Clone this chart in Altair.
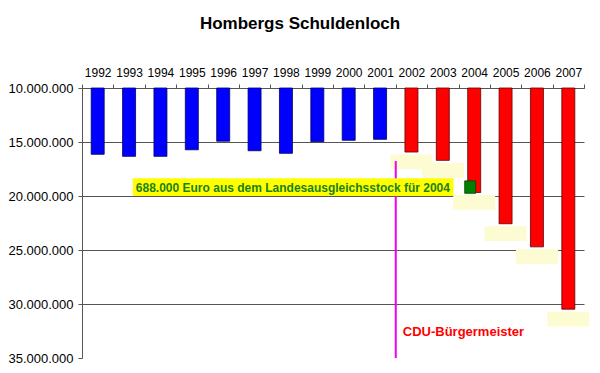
import altair as alt
import pandas as pd

years = ["1992", "1993", "1994", "1995", "1996", "1997", "1998", "1999",
         "2000", "2001", "2002", "2003", "2004", "2005", "2006", "2007"]
debt = [16140000, 16330000, 16330000, 15720000, 14930000, 15810000, 16050000, 14970000,
        14840000, 14750000, 15930000, 16700000, 19680000, 22570000, 24710000, 30480000]
mayor = ["alt"] * 10 + ["CDU"] * 6
tick_vals = [10000000, 15000000, 20000000, 25000000, 30000000, 35000000]

df = pd.DataFrame({"Jahr": years, "Schulden": debt, "Amt": mayor})
red_df = df[df["Amt"] == "CDU"]

FONT = "Liberation Sans"

xscale = alt.Scale(domain=years, paddingInner=0, paddingOuter=0)
yscale = alt.Scale(domain=[10000000, 35000000], reverse=True, nice=False, zero=False)

xaxis = alt.Axis(orient="top", title=None, labelAngle=0, tickBand="extent",
                 tickSize=4, labelPadding=5, labelFontSize=12, labelFont=FONT,
                 labelColor="black", domainColor="#555", tickColor="#555", grid=False)
yaxis = alt.Axis(title=None, values=tick_vals, format=",d", tickSize=4, labelPadding=5,
                 labelFontSize=13, labelFont=FONT, labelColor="black",
                 domainColor="#555", tickColor="#555", grid=True,
                 gridColor={"condition": {"test": "datum.value == 35000000", "value": "transparent"},
                            "value": "#555"},
                 gridWidth=1)

bars = alt.Chart(df).mark_bar(size=13, strokeWidth=0.8).encode(
    x=alt.X("Jahr:N", scale=xscale, axis=xaxis, sort=years),
    y=alt.Y("Schulden:Q", scale=yscale, axis=yaxis),
    y2=alt.datum(10000000),
    color=alt.Color("Amt:N", scale=alt.Scale(domain=["alt", "CDU"], range=["#0000ff", "#ff0000"]), legend=None),
    stroke=alt.Stroke("Amt:N", scale=alt.Scale(domain=["alt", "CDU"], range=["#000060", "#600000"]), legend=None),
)

label_boxes = alt.Chart(red_df).mark_bar(size=42, color="#fdfbd2").transform_calculate(
    top="datum.Schulden + 230000", bottom="datum.Schulden + 1600000"
).encode(
    x=alt.X("Jahr:N", scale=xscale, axis=xaxis, sort=years),
    y=alt.Y("top:Q", scale=yscale, axis=yaxis),
    y2="bottom:Q",
)

mayor_line = alt.Chart().mark_rule(color="#f000f0", strokeWidth=2).encode(
    x=alt.X(datum="2002", bandPosition=0),
    y=alt.Y(datum=16760000),
    y2=alt.Y2(datum=35000000),
)
mayor_text = alt.Chart().mark_text(text="CDU-Bürgermeister", align="left", baseline="middle",
                                   font=FONT, fontSize=13, fontWeight="bold", color="#ff0000", dx=7).encode(
    x=alt.X(datum="2002", bandPosition=0),
    y=alt.Y(datum=32600000),
)

note_box = alt.Chart().mark_rect(color="#ffff00").encode(
    x=alt.X(datum="1993", bandPosition=0.62),
    x2=alt.X2(datum="2003", bandPosition=0.84),
    y=alt.Y(datum=18350000),
    y2=alt.Y2(datum=20000000),
)
note_text = alt.Chart().mark_text(text="688.000 Euro aus dem Landesausgleichsstock für 2004",
                                  align="left", baseline="middle", font=FONT, fontSize=12,
                                  fontWeight="bold", color="#1a801a", dx=3).encode(
    x=alt.X(datum="1993", bandPosition=0.62),
    y=alt.Y(datum=19260000),
)

green_sq = alt.Chart().mark_bar(size=11, color="#008000", stroke="#004000", strokeWidth=0.8, xOffset=-4).encode(
    x=alt.X(datum="2004"),
    y=alt.Y(datum=18600000),
    y2=alt.Y2(datum=19750000),
)

chart = alt.layer(bars, label_boxes, mayor_line, mayor_text, note_box, note_text, green_sq).properties(
    width=502, height=270,
    title=alt.Title("Hombergs Schuldenloch", font=FONT, fontSize=17, fontWeight="bold",
                    color="black", anchor="middle", dx=-33, offset=33),
    autosize=alt.AutoSizeParams(type="none"),
    padding={"left": 74, "top": 80, "right": 8, "bottom": 7},
).configure(
    locale={"number": {"decimal": ",", "thousands": ".", "grouping": [3], "currency": ["", " €"]}}
).configure_view(stroke=None)

chart.save("out.html", embed_options={"renderer": "svg", "actions": False})
